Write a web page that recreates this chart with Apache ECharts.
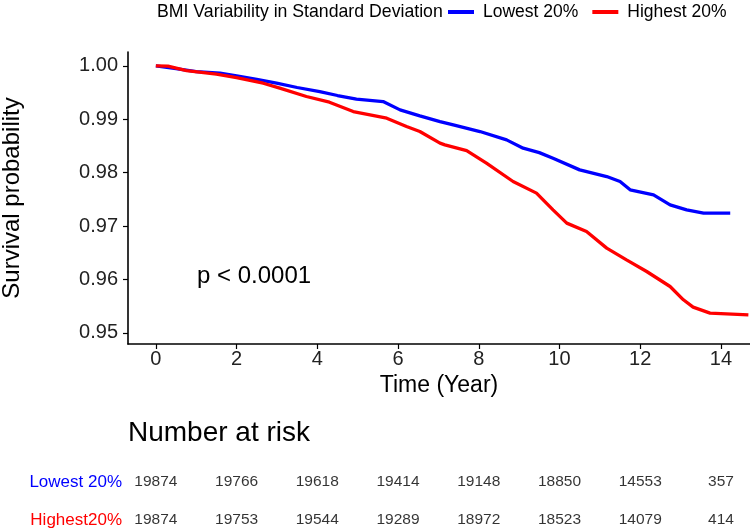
<!DOCTYPE html>
<html>
<head>
<meta charset="utf-8">
<script src="https://cdn.jsdelivr.net/npm/echarts@6/dist/echarts.min.js"></script>
<style>
  html, body { margin: 0; padding: 0; background: #fff; }
  #chart { width: 750px; height: 530px; }
</style>
</head>
<body>
<div id="chart"></div>
<script>
// survival curves: [time (year), survival probability]
const lowestCurve = [
  [0, 1.0], [0.5, 0.9995], [1, 0.99894], [1.59, 0.99863], [2, 0.99813], [2.5, 0.99745],
  [2.99, 0.99675], [3.5, 0.99595], [4.06, 0.99519], [4.5, 0.99445], [4.97, 0.99376],
  [5.63, 0.99332], [6.05, 0.99176], [6.54, 0.99064], [7.04, 0.98957], [7.37, 0.98895],
  [8.03, 0.9877], [8.69, 0.98614], [9.1, 0.98458], [9.5, 0.98375], [9.84, 0.98271],
  [10.5, 0.98052], [11.17, 0.97927], [11.5, 0.97834], [11.75, 0.97678], [12.33, 0.97584],
  [12.74, 0.97397], [13.15, 0.97303], [13.57, 0.97241], [14.23, 0.97241]
];
const highestCurve = [
  [0, 1.0], [0.3, 0.99995], [0.76, 0.99913], [1.5, 0.99845], [2, 0.99781], [2.66, 0.99675],
  [3.07, 0.99582], [3.73, 0.99426], [4.3, 0.99320], [4.89, 0.99145], [5.72, 0.9902],
  [6.21, 0.98864], [6.54, 0.9877], [7.04, 0.98552], [7.16, 0.98521], [7.7, 0.98414],
  [8.19, 0.98177], [8.85, 0.97834], [9.43, 0.97616], [9.84, 0.97303], [10.18, 0.97054],
  [10.67, 0.96897], [11.17, 0.96586], [11.66, 0.96367], [12.16, 0.96148], [12.74, 0.95867],
  [13.07, 0.95618], [13.31, 0.95481], [13.73, 0.95369], [14.68, 0.95337]
];

const groupNames = ["Lowest 20%", "Highest 20%"];
const riskRowLabels = ["Lowest 20%", "Highest20%"];
const riskTimes = [0, 2, 4, 6, 8, 10, 12, 14];
const riskLowest = [19874, 19766, 19618, 19414, 19148, 18850, 14553, 357];
const riskHighest = [19874, 19753, 19544, 19289, 18972, 18523, 14079, 414];
const xTicks = [0, 2, 4, 6, 8, 10, 12, 14];
const yTicks = [0.95, 0.96, 0.97, 0.98, 0.99, 1.0];

const colors = ["#0000ff", "#ff0000"];
const FONT = "Liberation Sans, Arial, sans-serif";

const chart = echarts.init(document.getElementById("chart"));

const riskData = [];
riskTimes.forEach((t, i) => {
  riskData.push([t, 1, riskLowest[i]]);
  riskData.push([t, 0, riskHighest[i]]);
});

const option = {
  animation: false,
  textStyle: { fontFamily: FONT },
  legend: {
    left: 448,
    top: 3,
    padding: 0,
    icon: "rect",
    itemWidth: 26,
    itemHeight: 4,
    itemGap: 14,
    textStyle: { fontSize: 17.5, color: "#000", fontFamily: FONT, padding: [0, 0, 0, 4] },
    data: groupNames
  },
  graphic: [
    {
      type: "text",
      left: 157,
      top: 3,
      style: { text: "BMI Variability in Standard Deviation", fontSize: 17.7, fill: "#000", fontFamily: FONT }
    },
    {
      type: "text",
      left: 197,
      top: 264,
      style: { text: "p < 0.0001", fontSize: 24, fill: "#000", fontFamily: FONT }
    },
    {
      type: "text",
      left: 128,
      top: 419,
      style: { text: "Number at risk", fontSize: 28, fill: "#000", fontFamily: FONT }
    }
  ],
  grid: [
    { left: 128, right: 0, top: 52, bottom: 186, outerBoundsMode: "none" },
    { left: 128, right: 0, top: 482, height: 38, outerBoundsMode: "none" }
  ],
  xAxis: [
    {
      gridIndex: 0,
      type: "value",
      min: -0.69,
      max: 14.72,
      name: "Time (Year)",
      nameLocation: "middle",
      nameGap: 30,
      nameTextStyle: { fontSize: 23, color: "#000" },
      axisLine: { onZero: false, lineStyle: { color: "#000", width: 1.6 } },
      axisTick: { customValues: xTicks, length: 5, lineStyle: { color: "#000", width: 1.2 } },
      axisLabel: { customValues: xTicks, fontSize: 20, color: "#222", margin: 5 },
      splitLine: { show: false }
    },
    {
      gridIndex: 1,
      type: "value",
      min: -0.69,
      max: 14.72,
      show: false
    }
  ],
  yAxis: [
    {
      gridIndex: 0,
      type: "value",
      min: 0.9479,
      max: 1.0026,
      name: "Survival probability",
      nameLocation: "middle",
      nameGap: 104,
      nameTextStyle: { fontSize: 24, color: "#000" },
      axisLine: { show: true, onZero: false, lineStyle: { color: "#000", width: 1.6 } },
      axisTick: { show: true, customValues: yTicks, length: 5, lineStyle: { color: "#000", width: 1.2 } },
      axisLabel: {
        customValues: yTicks,
        fontSize: 20,
        color: "#222",
        margin: 10,
        formatter: v => v.toFixed(2)
      },
      splitLine: { show: false }
    },
    {
      gridIndex: 1,
      type: "value",
      min: 0,
      max: 1,
      axisLine: { show: false },
      axisTick: { show: false },
      splitLine: { show: false },
      axisLabel: {
        customValues: [0, 1],
        margin: 6,
        fontSize: 17,
        formatter: v => (v === 1 ? "{lo|" + riskRowLabels[0] + "}" : "{hi|" + riskRowLabels[1] + "}"),
        rich: {
          lo: { color: colors[0], fontSize: 17, fontFamily: FONT },
          hi: { color: colors[1], fontSize: 17, fontFamily: FONT }
        }
      }
    }
  ],
  series: [
    {
      name: groupNames[0],
      type: "line",
      xAxisIndex: 0,
      yAxisIndex: 0,
      data: lowestCurve,
      showSymbol: false,
      color: colors[0],
      lineStyle: { width: 3.3, color: colors[0] }
    },
    {
      name: groupNames[1],
      type: "line",
      xAxisIndex: 0,
      yAxisIndex: 0,
      data: highestCurve,
      showSymbol: false,
      color: colors[1],
      lineStyle: { width: 3.3, color: colors[1] }
    },
    {
      name: "risk",
      type: "scatter",
      xAxisIndex: 1,
      yAxisIndex: 1,
      data: riskData,
      symbolSize: 1,
      itemStyle: { color: "rgba(0,0,0,0)" },
      label: {
        show: true,
        position: "inside",
        fontSize: 15.5,
        color: "#000",
        fontFamily: FONT,
        formatter: p => String(p.value[2])
      },
      silent: true
    }
  ]
};

chart.setOption(option);
</script>
</body>
</html>
